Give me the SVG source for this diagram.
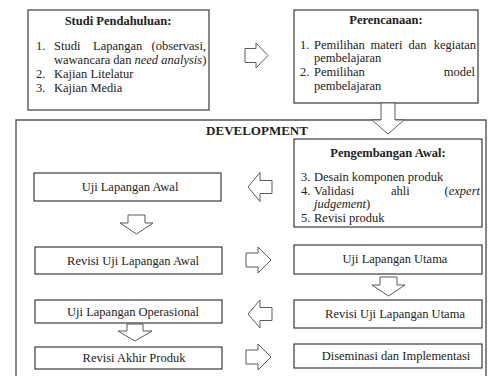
<svg xmlns="http://www.w3.org/2000/svg" width="489" height="376" viewBox="0 0 489 376" font-family="'Liberation Serif', 'Times New Roman', 'DejaVu Serif', serif">
<style>
.box{fill:#fff;stroke:#3a3a3a;stroke-width:1.2}
.frame{fill:none;stroke:#555;stroke-width:1.4}
.arr{fill:#fff;stroke:#5a5a5a;stroke-width:1}
text{font-family:'Liberation Serif','Times New Roman','DejaVu Serif',serif;font-size:12.5px;fill:#222}
.b{font-weight:bold}
.c{text-anchor:middle}
.e{text-anchor:end}
.i{font-style:italic}
</style>
<rect width="489" height="376" fill="#fff"/>
<g id="development-frame">
<path class="frame" d="M16,380 V120 H486 V380"/>
<text class="b c" x="257" y="135" style="font-size:13px">DEVELOPMENT</text>
</g>
<g id="studi-pendahuluan">
<rect class="box" x="28" y="10" width="181" height="100"/>
<text class="b c" x="118" y="25">Studi Pendahuluan:</text>
<text x="36" y="50">1.</text><text x="54" y="50">Studi</text><text x="93" y="50">Lapangan</text><text class="e" x="206" y="50">(observasi,</text>
<text x="54" y="64">wawancara dan <tspan class="i">need analysis</tspan>)</text>
<text x="36" y="78">2.</text><text x="54" y="78">Kajian Litelatur</text>
<text x="36" y="92">3.</text><text x="54" y="92">Kajian Media</text>
</g>
<g id="perencanaan">
<rect class="box" x="294" y="10" width="184" height="93"/>
<text class="b c" x="386" y="24">Perencanaan:</text>
<text x="300" y="49">1.</text><text x="314" y="49">Pemilihan</text><text x="370.5" y="49">materi</text><text x="408.5" y="49">dan</text><text class="e" x="476" y="49">kegiatan</text>
<text x="314" y="62">pembelajaran</text>
<text x="300" y="76">2.</text><text x="314" y="76">Pemilihan</text><text class="e" x="475" y="76">model</text>
<text x="314" y="90">pembelajaran</text>
</g>
<g id="pengembangan-awal">
<rect class="box" x="294" y="139" width="188" height="88"/>
<text class="b c" x="388" y="157">Pengembangan Awal:</text>
<text x="301" y="181">3.</text><text x="314" y="181">Desain komponen produk</text>
<text x="301" y="195">4.</text><text x="314" y="195">Validasi</text><text x="391" y="195">ahli</text><text class="e" x="480" y="195">(<tspan class="i">expert</tspan></text>
<text x="314" y="208"><tspan class="i">judgement</tspan>)</text>
<text x="301" y="222">5.</text><text x="314" y="222">Revisi produk</text>
</g>
<g id="uji-lapangan-awal">
<rect class="box" x="34" y="173" width="187" height="28"/>
<text class="c" x="130" y="191">Uji Lapangan Awal</text>
</g>
<g id="revisi-uji-lapangan-awal">
<rect class="box" x="35" y="247" width="187" height="27"/>
<text class="c" x="133" y="265">Revisi Uji Lapangan Awal</text>
</g>
<g id="uji-lapangan-operasional">
<rect class="box" x="35" y="300" width="187" height="23"/>
<text class="c" x="133" y="316">Uji Lapangan Operasional</text>
</g>
<g id="revisi-akhir-produk">
<rect class="box" x="35" y="347" width="187" height="22"/>
<text class="c" x="134" y="362">Revisi Akhir Produk</text>
</g>
<g id="uji-lapangan-utama">
<rect class="box" x="294" y="245" width="188" height="29"/>
<text class="c" x="395" y="263">Uji Lapangan Utama</text>
</g>
<g id="revisi-uji-lapangan-utama">
<rect class="box" x="294" y="300" width="188" height="28"/>
<text class="c" x="395" y="318">Revisi Uji Lapangan Utama</text>
</g>
<g id="diseminasi-implementasi">
<rect class="box" x="294" y="344" width="188" height="24"/>
<text class="c" x="396" y="360">Diseminasi dan Implementasi</text>
</g>
<g id="connectors">
<path class="arr" d="M245,48.5 H256 V43 L268,55.5 L256,68 V62.5 H245 Z"/>
<path class="arr" d="M381,103 H395 V120 H404 L388,134 L372,120 H381 Z"/>
<path class="arr" d="M248,187 L260,172.5 V180.5 H272 V193.5 H260 V201.5 Z"/>
<path class="arr" d="M128,215 H145 V223 H153 L136.5,234 L120,223 H128 Z"/>
<path class="arr" d="M246,253 H258 V247 L271,260 L258,273 V267 H246 Z"/>
<path class="arr" d="M380,277 H397 V285 H405 L388.5,296 L372,285 H380 Z"/>
<path class="arr" d="M248,314 L260,300 V307.5 H272 V320.5 H260 V328 Z"/>
<path class="arr" d="M127,324 H143 V331 H152 L135,341 L118,331 H127 Z"/>
<path class="arr" d="M246,350 H258 V344 L271,357 L258,370 V364 H246 Z"/>
</g>
</svg>
